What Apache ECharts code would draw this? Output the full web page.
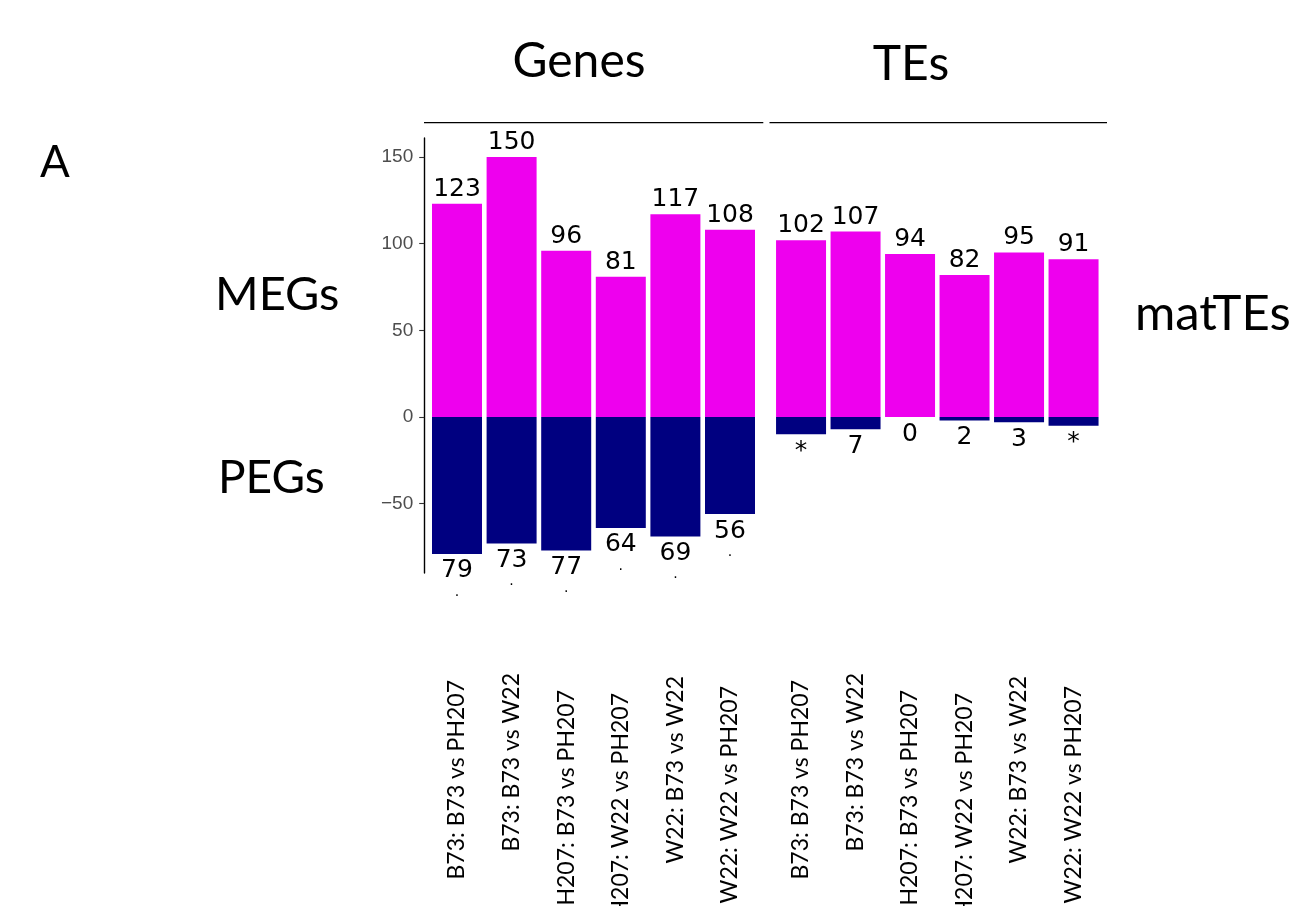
<!DOCTYPE html>
<html>
<head>
<meta charset="utf-8">
<script src="https://cdn.jsdelivr.net/npm/echarts@6/dist/echarts.min.js"></script>
<style>
  html, body { margin: 0; padding: 0; background: #ffffff; }
  #chart { width: 1293px; height: 906px; }
</style>
</head>
<body>
<div id="chart"></div>
<script>
// Comparisons shown in both panels
const categories = [
  'B73: B73 vs PH207',
  'B73: B73 vs W22',
  'PH207: B73 vs PH207',
  'PH207: W22 vs PH207',
  'W22: B73 vs W22',
  'W22: W22 vs PH207'
];

// Genes panel: maternally (MEGs) and paternally (PEGs) expressed genes
const geneMEG = [123, 150, 96, 81, 117, 108];
const genePEG = [79, 73, 77, 64, 69, 56];
const geneSig = ['.', '.', '.', '.', '.', '.'];

// TEs panel: maternally expressed TEs and the paternal counterpart
const teMat = [102, 107, 94, 82, 95, 91];
const tePat = [10, 7, 0, 2, 3, 5];
const tePatText = ['*', '7', '0', '2', '3', '*'];

const yTicks = [-50, 0, 50, 100, 150];

const MAGENTA = '#EE00EE';
const NAVY = '#000080';
const NUM_FONT = 'DejaVu Sans';
const TXT_FONT = 'Lato';

// Category labels sit lower the longer they are (text hangs past its anchor)
const LABEL_SIZE = 23;
const measureCtx = document.createElement('canvas').getContext('2d');
measureCtx.font = LABEL_SIZE + 'px ' + TXT_FONT;
const labelRich = {};
categories.forEach((c, i) => {
  const w = measureCtx.measureText(c).width;
  labelRich['l' + i] = {
    fontFamily: TXT_FONT, fontSize: LABEL_SIZE, color: '#000',
    padding: [0, Math.round(w * 0.35), 0, 0]
  };
});

const chart = echarts.init(document.getElementById('chart'), null, { renderer: 'canvas' });

const xAxisCommon = (gridIndex) => ({
  type: 'category',
  gridIndex,
  data: categories,
  axisLine: { show: false },
  axisTick: { show: false },
  axisLabel: {
    interval: 0,
    rotate: 90,
    margin: 37,
    hideOverlap: false,
    formatter: (v, i) => '{l' + i + '|' + v + '}',
    rich: labelRich
  }
});

const posLabel = {
  show: true,
  position: 'top',
  distance: 2,
  fontFamily: NUM_FONT,
  fontSize: 25,
  lineHeight: 25,
  color: '#000'
};

const option = {
  backgroundColor: '#ffffff',
  animation: false,
  grid: [
    { left: 429.7, top: 138, width: 327.6, height: 435, outerBoundsMode: 'none', containLabel: false },
    { left: 773.8, top: 138, width: 327, height: 435, outerBoundsMode: 'none', containLabel: false }
  ],
  xAxis: [xAxisCommon(0), xAxisCommon(1)],
  yAxis: [
    {
      type: 'value',
      gridIndex: 0,
      min: -90,
      max: 161,
      offset: 5.5,
      splitLine: { show: false },
      axisLine: { show: true, lineStyle: { color: '#000', width: 1.4 } },
      axisTick: { show: true, length: 5, customValues: yTicks, lineStyle: { color: '#333', width: 1.1 } },
      axisLabel: {
        customValues: yTicks,
        margin: 11,
        color: '#4D4D4D',
        fontFamily: 'Liberation Sans',
        fontSize: 19,
        formatter: (v) => String(v).replace('-', '\u2212')
      }
    },
    {
      type: 'value',
      gridIndex: 1,
      min: -90,
      max: 161,
      show: false,
      splitLine: { show: false }
    }
  ],
  series: [
    {
      name: 'MEGs',
      type: 'bar',
      xAxisIndex: 0, yAxisIndex: 0,
      barWidth: 50,
      barGap: '-100%',
      itemStyle: { color: MAGENTA },
      label: posLabel,
      data: geneMEG
    },
    {
      name: 'PEGs',
      type: 'bar',
      xAxisIndex: 0, yAxisIndex: 0,
      barWidth: 50,
      barGap: '-100%',
      itemStyle: { color: NAVY },
      label: {
        show: true,
        position: 'bottom',
        distance: 2,
        formatter: (p) => '{v|' + genePEG[p.dataIndex] + '}\n{d|' + geneSig[p.dataIndex] + '}',
        rich: {
          v: { fontFamily: NUM_FONT, fontSize: 25, lineHeight: 30, color: '#000' },
          d: { fontFamily: NUM_FONT, fontSize: 14, lineHeight: 12, color: '#000' }
        }
      },
      data: genePEG.map(v => -v)
    },
    {
      name: 'matTEs',
      type: 'bar',
      xAxisIndex: 1, yAxisIndex: 1,
      barWidth: 50,
      barGap: '-100%',
      itemStyle: { color: MAGENTA },
      label: posLabel,
      data: teMat
    },
    {
      name: 'patTEs',
      type: 'bar',
      xAxisIndex: 1, yAxisIndex: 1,
      barWidth: 50,
      barGap: '-100%',
      itemStyle: { color: NAVY },
      label: {
        show: true,
        position: 'bottom',
        distance: 2,
        fontFamily: NUM_FONT,
        fontSize: 25,
        lineHeight: 30,
        color: '#000',
        formatter: (p) => tePatText[p.dataIndex]
      },
      data: tePat.map(v => -v)
    }
  ],
  graphic: [
    // panel strips
    { type: 'line', shape: { x1: 424, y1: 122.7, x2: 763.3, y2: 122.7 }, style: { stroke: '#000', lineWidth: 1.2 } },
    { type: 'line', shape: { x1: 769.5, y1: 122.7, x2: 1107, y2: 122.7 }, style: { stroke: '#000', lineWidth: 1.2 } },
    { type: 'text', x: 579, y: 62, style: { text: 'Genes', font: '48px Lato', fill: '#000', align: 'center', verticalAlign: 'middle' } },
    { type: 'text', x: 911, y: 65, style: { text: 'TEs', font: '48px Lato', fill: '#000', align: 'center', verticalAlign: 'middle' } },
    // row annotations
    { type: 'text', x: 40, y: 163, style: { text: 'A', font: '44px Lato', fill: '#000', align: 'left', verticalAlign: 'middle' } },
    { type: 'text', x: 215, y: 295, style: { text: 'MEGs', font: '47px Lato', fill: '#000', align: 'left', verticalAlign: 'middle' } },
    { type: 'text', x: 218, y: 478, style: { text: 'PEGs', font: '46px Lato', fill: '#000', align: 'left', verticalAlign: 'middle' } },
    { type: 'text', x: 1135, y: 314, style: { text: 'matTEs', font: '49px Lato', fill: '#000', align: 'left', verticalAlign: 'middle' } }
  ]
};

chart.setOption(option);
</script>
</body>
</html>
